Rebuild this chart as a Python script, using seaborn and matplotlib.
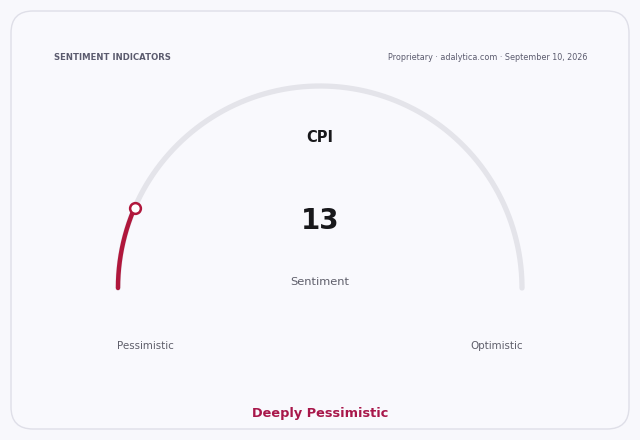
import matplotlib
matplotlib.use("Agg")
import matplotlib.pyplot as plt
from matplotlib.patches import FancyBboxPatch
import numpy as np
import pandas as pd
import seaborn as sns

# gauge data
indicator = "CPI"
value = 13
scale_min = 0
scale_max = 100
low_label = "Pessimistic"
high_label = "Optimistic"
reading = "Deeply Pessimistic"

sns.set_theme(style="white")
plt.rcParams['font.family'] = ['DejaVu Sans']

bg = "#f8f8fc"
fig = plt.figure(figsize=(6.4, 4.4), dpi=100, facecolor=bg)
ax = fig.add_axes([0, 0, 1, 1])
ax.set_xlim(0, 640)
ax.set_ylim(440, 0)
ax.axis("off")
ax.set_facecolor(bg)

card = FancyBboxPatch((11, 11), 618, 418, boxstyle="round,pad=0,rounding_size=22",
                      facecolor="#f9f9fd", edgecolor="#dfdfe8", linewidth=1.0)
ax.add_patch(card)

cx, cy, r = 320, 288, 202


def arc(v0, v1, n=200):
    f = (np.linspace(v0, v1, n) - scale_min) / (scale_max - scale_min)
    ang = np.pi * (1 - f)
    return pd.DataFrame({"x": cx + r * np.cos(ang), "y": cy - r * np.sin(ang), "i": np.arange(n)})


sns.lineplot(data=arc(scale_min, scale_max), x="x", y="y", sort=False, ax=ax,
             color="#e4e4ea", linewidth=3.8, solid_capstyle="round")
sns.lineplot(data=arc(scale_min, value), x="x", y="y", sort=False, ax=ax,
             color="#b0173c", linewidth=3.2, solid_capstyle="round")
end = arc(value, value, 1)
ax.scatter(end["x"], end["y"], s=60, facecolor="white", edgecolor="#b0173c", linewidth=1.8, zorder=5)
ax.set_xlim(0, 640)
ax.set_ylim(440, 0)
ax.set_xlabel("")
ax.set_ylabel("")

ax.text(54, 58, "SENTIMENT INDICATORS", fontsize=6.1, fontweight="bold", color="#5b5b6e", va="center")
ax.text(587, 58, "Proprietary · adalytica.com · September 10, 2026", fontsize=5.75,
        color="#5b5b6e", ha="right", va="center")
ax.text(320, 137, indicator, fontsize=10.5, fontweight="bold", color="#18181b", ha="center", va="center")
ax.text(320, 221, f"{value}", fontsize=20, fontweight="bold", color="#18181b", ha="center", va="center")
ax.text(320, 282, "Sentiment", fontsize=8.2, color="#5e5e6a", ha="center", va="center")
ax.text(145, 346, low_label, fontsize=7.4, color="#5e5e6a", ha="center", va="center")
ax.text(497, 346, high_label, fontsize=7.4, color="#5e5e6a", ha="center", va="center")
ax.text(320, 414, reading, fontsize=9.3, fontweight="bold", color="#a8174a", ha="center", va="center")

fig.savefig("out.png", dpi=100, facecolor=bg)
